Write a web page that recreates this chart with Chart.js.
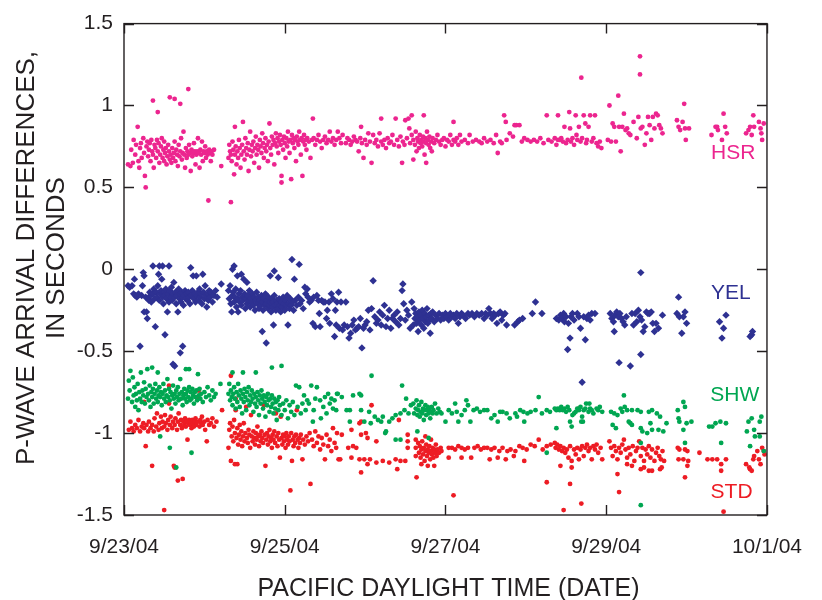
<!DOCTYPE html>
<html>
<head>
<meta charset="utf-8">
<script src="https://cdn.jsdelivr.net/npm/chart.js@4.4.1/dist/chart.umd.min.js"></script>
<style>
  body { margin: 0; background: #fff; }
  canvas { display: block; }
</style>
</head>
<body>
<canvas id="chart" width="822" height="600"></canvas>
<script>
// x = days after 9/23/04 00:00, y = arrival difference in seconds
const xTickDays = [0, 2, 4, 6, 8];
const xTickLabels = ['9/23/04', '9/25/04', '9/27/04', '9/29/04', '10/1/04'];
const yTickValues = [-1.5, -1, -0.5, 0, 0.5, 1, 1.5];
const yTickLabels = ['-1.5', '-1', '-0.5', '0', '0.5', '1', '1.5'];
const seriesNames = ['HSR', 'YEL', 'SHW', 'STD'];
const seriesColors = ['#ec258f', '#2e3192', '#00a651', '#ed1c24'];

const hsrPoints = [
  [0.05,0.64],[0.08,0.63],[0.09,0.73],[0.11,0.65],[0.12,0.79],[0.14,0.70],[0.15,0.76],[0.17,0.87],[0.18,0.66],[0.19,0.62],
  [0.2,0.74],[0.21,0.77],[0.22,0.68],[0.24,0.80],[0.25,0.71],[0.26,0.57],[0.27,0.50],[0.28,0.75],[0.29,0.78],[0.3,0.69],
  [0.31,0.73],[0.32,0.77],[0.33,0.66],[0.34,0.79],[0.35,0.72],[0.36,1.03],[0.36,0.70],[0.37,0.62],[0.38,0.76],[0.39,0.74],
  [0.4,0.68],[0.41,0.79],[0.42,0.96],[0.42,0.72],[0.43,0.77],[0.44,0.65],[0.45,0.70],[0.46,0.75],[0.47,0.80],[0.48,0.68],
  [0.49,0.73],[0.5,0.66],[0.5,0.78],[0.51,0.71],[0.52,0.74],[0.53,0.64],[0.54,0.69],[0.55,0.76],[0.56,0.72],[0.57,1.05],
  [0.57,0.67],[0.58,0.70],[0.59,0.65],[0.6,0.74],[0.61,0.68],[0.62,0.71],[0.63,1.04],[0.63,0.78],[0.64,0.66],[0.65,0.73],
  [0.66,0.70],[0.67,0.63],[0.68,0.76],[0.69,0.69],[0.7,1.01],[0.7,0.72],[0.71,0.80],[0.72,0.67],[0.73,0.71],[0.74,0.84],
  [0.75,0.70],[0.76,0.62],[0.77,0.74],[0.78,0.68],[0.79,0.72],[0.8,1.10],[0.8,0.70],[0.81,0.76],[0.82,0.71],[0.83,0.60],
  [0.84,0.73],[0.85,0.69],[0.86,0.71],[0.87,0.77],[0.88,0.72],[0.89,0.64],[0.9,0.70],[0.91,0.72],[0.92,0.80],[0.93,0.71],
  [0.94,0.62],[0.95,0.73],[0.96,0.70],[0.97,0.78],[0.98,0.66],[0.99,0.72],[1.0,0.71],[1.01,0.75],[1.02,0.68],[1.03,0.72],
  [1.04,0.70],[1.05,0.42],[1.06,0.73],[1.07,0.71],[1.08,0.66],[1.09,0.72],[1.1,0.70],[1.12,0.73],[1.21,0.63],[1.33,0.41],
  [1.3,0.68],[1.31,0.76],[1.32,0.72],[1.33,0.70],[1.34,0.66],[1.35,0.78],[1.36,0.73],[1.37,0.58],[1.38,0.87],[1.38,0.70],
  [1.39,0.75],[1.4,0.64],[1.41,0.72],[1.42,0.68],[1.43,0.79],[1.44,0.74],[1.45,0.62],[1.46,0.70],[1.47,0.76],[1.48,0.90],
  [1.49,0.72],[1.5,0.67],[1.51,0.80],[1.52,0.74],[1.53,0.70],[1.54,0.77],[1.55,0.60],[1.56,0.73],[1.57,0.84],[1.58,0.69],
  [1.59,0.76],[1.6,0.72],[1.61,0.78],[1.62,0.65],[1.63,0.74],[1.64,0.81],[1.65,0.70],[1.66,0.76],[1.67,0.73],[1.68,0.62],
  [1.69,0.79],[1.7,0.75],[1.71,0.71],[1.72,0.83],[1.73,0.77],[1.74,0.68],[1.75,0.74],[1.76,0.80],[1.77,0.72],[1.78,0.76],
  [1.79,0.66],[1.8,0.78],[1.81,0.89],[1.82,0.74],[1.83,0.70],[1.84,0.81],[1.85,0.76],[1.86,0.79],[1.87,0.64],[1.88,0.77],
  [1.89,0.83],[1.9,0.75],[1.91,0.80],[1.92,0.71],[1.93,0.78],[1.94,0.82],[1.95,0.76],[1.96,0.53],[1.96,0.57],[1.97,0.79],
  [1.98,0.73],[1.99,0.81],[2.0,0.77],[2.01,0.68],[2.02,0.80],[2.03,0.75],[2.04,0.84],[2.05,0.78],[2.06,0.71],[2.07,0.79],
  [2.08,0.55],[2.09,0.82],[2.1,0.77],[2.11,0.80],[2.12,0.74],[2.13,0.79],[2.14,0.66],[2.15,0.81],[2.16,0.78],[2.17,0.76],
  [2.18,0.84],[2.19,0.79],[2.2,0.70],[2.21,0.80],[2.22,0.57],[2.23,0.78],[2.24,0.82],[2.25,0.76],[2.26,0.79],[2.27,0.73],
  [2.28,0.80],[2.3,0.78],[2.32,0.68],[2.34,0.79],[2.35,0.92],[2.36,0.80],[2.38,0.76],[2.4,0.79],[2.42,0.82],[2.44,0.78],
  [2.46,0.74],[2.48,0.79],[2.5,0.81],[2.52,0.77],[2.54,0.79],[2.56,0.84],[2.58,0.78],[2.6,0.80],[2.62,0.76],[2.64,0.79],
  [2.66,0.84],[2.68,0.80],[2.7,0.77],[2.72,0.82],[2.76,0.77],[2.78,0.80],[2.8,0.79],[2.82,0.76],[2.84,0.78],[2.86,0.81],
  [2.88,0.79],[2.9,0.78],[2.92,0.72],[2.94,0.80],[2.95,0.87],[2.96,0.77],[2.98,0.68],[3.0,0.79],[3.02,0.76],[3.04,0.83],
  [3.06,0.78],[3.08,0.65],[3.1,0.82],[3.12,0.77],[3.14,0.79],[3.16,0.75],[3.18,0.83],[3.2,0.92],[3.2,0.78],[3.22,0.76],
  [3.24,0.79],[3.26,0.74],[3.28,0.80],[3.3,0.77],[3.32,0.78],[3.34,0.82],[3.36,0.76],[3.38,0.92],[3.4,0.79],[3.42,0.75],
  [3.44,0.81],[3.46,0.65],[3.47,0.78],[3.49,0.76],[3.5,0.91],[3.52,0.80],[3.54,0.92],[3.55,0.86],[3.56,0.77],[3.58,0.94],
  [3.58,0.82],[3.6,0.67],[3.6,0.79],[3.62,0.76],[3.63,0.84],[3.64,0.72],[3.65,0.80],[3.66,0.78],[3.67,0.74],[3.68,0.82],
  [3.69,0.77],[3.7,0.79],[3.71,0.75],[3.72,0.81],[3.73,0.94],[3.73,0.78],[3.74,0.70],[3.75,0.80],[3.76,0.65],[3.76,0.77],
  [3.77,0.84],[3.78,0.79],[3.79,0.76],[3.8,0.81],[3.81,0.74],[3.82,0.78],[3.83,0.72],[3.84,0.80],[3.86,0.77],[3.88,0.79],
  [3.9,0.82],[3.92,0.78],[3.94,0.76],[3.96,0.79],[3.98,0.80],[4.0,0.75],[4.02,0.79],[4.04,0.78],[4.06,0.82],[4.08,0.76],
  [4.1,0.90],[4.1,0.79],[4.12,0.78],[4.14,0.80],[4.16,0.76],[4.18,0.82],[4.2,0.78],[4.24,0.79],[4.28,0.77],[4.3,0.82],
  [4.34,0.78],[4.38,0.79],[4.42,0.78],[4.45,0.77],[4.48,0.80],[4.52,0.78],[4.56,0.79],[4.6,0.77],[4.63,0.82],[4.65,0.71],
  [4.68,0.78],[4.7,0.77],[4.73,0.94],[4.75,0.90],[4.76,0.79],[4.8,0.83],[4.84,0.81],[4.86,0.88],[4.88,0.88],[4.92,0.88],
  [4.95,0.78],[4.98,0.80],[5.02,0.79],[5.06,0.78],[5.1,0.79],[5.14,0.78],[5.18,0.80],[5.22,0.77],[5.26,0.94],[5.28,0.79],
  [5.32,0.78],[5.36,0.80],[5.4,0.94],[5.4,0.79],[5.38,0.76],[5.42,0.79],[5.44,0.80],[5.46,0.78],[5.48,0.87],[5.5,0.77],
  [5.52,0.79],[5.54,0.96],[5.55,0.86],[5.56,0.78],[5.58,0.80],[5.6,0.76],[5.62,0.94],[5.63,0.82],[5.64,0.79],[5.66,0.87],
  [5.68,0.78],[5.69,1.17],[5.7,0.80],[5.72,0.94],[5.74,0.89],[5.75,0.77],[5.76,0.79],[5.78,0.87],[5.8,0.94],[5.82,0.78],
  [5.84,0.80],[5.86,0.94],[5.88,0.77],[5.9,0.75],[5.92,0.78],[5.94,0.74],[6.02,0.79],[6.04,1.00],[6.06,0.78],[6.08,0.89],
  [6.1,0.87],[6.12,0.78],[6.15,1.06],[6.16,0.87],[6.18,0.72],[6.2,0.87],[6.22,0.95],[6.24,0.85],[6.26,0.86],[6.28,0.83],
  [6.3,0.82],[6.34,0.90],[6.38,0.80],[6.4,0.93],[6.42,1.30],[6.42,1.19],[6.43,0.86],[6.45,0.87],[6.48,0.76],[6.5,0.83],
  [6.52,0.93],[6.54,0.88],[6.56,0.79],[6.58,0.93],[6.6,0.86],[6.62,0.95],[6.64,0.94],[6.66,0.88],[6.68,0.86],[6.7,0.83],
  [6.88,0.91],[6.9,0.87],[6.92,0.85],[6.95,0.90],[6.97,1.01],[6.98,0.86],[6.99,0.79],[7.03,0.86],
  [7.31,0.82],[7.36,0.87],[7.38,0.87],[7.39,0.85],[7.44,0.79],[7.46,0.95],[7.48,0.87],[7.5,0.83],
  [7.74,0.83],[7.77,0.85],[7.79,0.87],[7.81,0.82],[7.83,0.94],[7.84,0.87],[7.9,0.90],[7.92,0.86],[7.93,0.83],[7.94,0.79],[7.96,0.89]
];

const yelPoints = [
  [0.05,-0.10],[0.07,-0.11],[0.1,-0.10],[0.12,-0.15],[0.13,-0.06],[0.14,-0.16],[0.16,-0.17],[0.18,-0.15],[0.2,-0.47],[0.22,-0.16],
  [0.23,-0.10],[0.24,-0.02],[0.25,-0.04],[0.25,-0.26],[0.27,-0.17],[0.28,-0.26],[0.29,-0.30],[0.3,-0.18],[0.31,-0.19],[0.32,-0.14],
  [0.33,-0.16],[0.34,-0.20],[0.36,0.02],[0.36,-0.15],[0.37,-0.12],[0.38,-0.18],[0.39,-0.35],[0.4,-0.14],[0.41,-0.17],[0.42,-0.10],
  [0.43,-0.03],[0.44,0.02],[0.44,-0.19],[0.45,-0.15],[0.46,-0.13],[0.47,-0.06],[0.48,0.02],[0.48,-0.17],[0.49,-0.21],[0.5,-0.14],
  [0.51,-0.40],[0.51,-0.16],[0.52,-0.12],[0.53,-0.18],[0.54,-0.26],[0.55,-0.15],[0.56,0.02],[0.56,-0.20],[0.57,-0.13],[0.58,-0.17],
  [0.59,-0.11],[0.6,-0.19],[0.61,-0.58],[0.61,-0.15],[0.62,-0.08],[0.63,-0.59],[0.63,-0.17],[0.64,-0.14],[0.65,-0.21],[0.66,-0.16],
  [0.67,-0.26],[0.68,-0.12],[0.69,-0.18],[0.7,-0.51],[0.7,-0.15],[0.71,-0.20],[0.72,-0.14],[0.73,-0.47],[0.73,-0.17],[0.74,-0.22],
  [0.75,-0.16],[0.76,-0.13],[0.77,-0.18],[0.78,-0.15],[0.79,-0.19],[0.8,-0.14],[0.81,-0.17],[0.82,-0.21],[0.83,0.01],[0.84,-0.16],
  [0.85,-0.13],[0.86,-0.04],[0.87,-0.18],[0.88,-0.15],[0.89,-0.20],[0.9,-0.04],[0.91,-0.16],[0.92,-0.14],[0.93,-0.19],[0.94,-0.12],
  [0.95,-0.17],[0.96,-0.15],[0.97,-0.21],[0.98,-0.03],[0.99,-0.14],[1.0,-0.18],[1.01,-0.10],[1.02,-0.16],[1.03,-0.23],[1.04,-0.15],
  [1.05,-0.19],[1.06,-0.13],[1.07,-0.17],[1.08,-0.14],[1.1,-0.20],[1.12,-0.16],[1.14,-0.13],[1.16,-0.17],[1.21,-0.09],
  [1.3,-0.13],[1.31,-0.18],[1.32,-0.10],[1.33,-0.21],[1.34,-0.26],[1.35,0.00],[1.35,-0.16],[1.36,-0.14],[1.37,0.02],[1.37,-0.20],
  [1.38,-0.17],[1.39,-0.12],[1.4,-0.23],[1.41,-0.04],[1.41,-0.18],[1.42,-0.26],[1.43,-0.15],[1.44,-0.20],[1.45,-0.13],[1.46,-0.03],
  [1.46,-0.22],[1.47,-0.17],[1.48,-0.19],[1.49,-0.06],[1.5,-0.15],[1.51,-0.24],[1.52,-0.18],[1.53,-0.08],[1.53,-0.21],[1.54,-0.16],
  [1.55,-0.19],[1.56,-0.13],[1.57,-0.23],[1.58,-0.18],[1.59,-0.20],[1.6,-0.15],[1.61,-0.22],[1.62,-0.17],[1.63,-0.25],[1.64,-0.19],
  [1.65,-0.14],[1.66,-0.21],[1.67,-0.17],[1.68,-0.24],[1.69,-0.19],[1.7,-0.22],[1.71,-0.16],[1.72,-0.38],[1.72,-0.20],[1.73,-0.25],
  [1.74,-0.18],[1.75,-0.22],[1.76,-0.15],[1.77,-0.45],[1.77,-0.21],[1.78,-0.19],[1.79,-0.24],[1.8,-0.17],[1.81,-0.22],[1.82,-0.04],
  [1.82,-0.20],[1.83,-0.26],[1.84,-0.18],[1.85,-0.23],[1.86,-0.34],[1.86,-0.20],[1.87,-0.01],[1.87,-0.16],[1.88,-0.22],[1.89,-0.25],
  [1.9,-0.19],[1.91,-0.21],[1.92,-0.05],[1.92,-0.24],[1.93,-0.18],[1.94,-0.22],[1.95,-0.26],[1.96,-0.20],[1.97,-0.23],[1.98,-0.17],
  [1.99,-0.21],[2.0,-0.25],[2.01,-0.19],[2.02,-0.22],[2.03,-0.16],[2.04,-0.34],[2.05,-0.21],[2.06,-0.24],[2.07,-0.18],[2.08,-0.22],
  [2.09,0.06],[2.1,-0.20],[2.11,-0.25],[2.12,-0.06],[2.13,-0.19],[2.15,-0.22],[2.17,-0.17],[2.18,0.03],[2.19,-0.21],[2.21,-0.19],
  [2.23,-0.24],[2.25,-0.11],[2.26,-0.15],[2.28,-0.12],[2.29,-0.17],[2.31,-0.20],[2.33,-0.19],[2.35,-0.33],[2.36,-0.17],[2.38,-0.35],
  [2.4,-0.16],[2.42,-0.19],[2.43,-0.27],[2.44,-0.35],[2.46,-0.19],[2.48,-0.20],[2.5,-0.20],[2.52,-0.30],[2.53,-0.25],[2.55,-0.20],
  [2.56,-0.33],[2.58,-0.15],[2.6,-0.18],[2.62,-0.41],[2.63,-0.25],[2.64,-0.34],[2.65,-0.20],[2.67,-0.14],[2.68,-0.36],[2.7,-0.20],
  [2.72,-0.37],[2.74,-0.34],[2.76,-0.20],[2.78,-0.35],[2.8,-0.42],[2.82,-0.39],[2.84,-0.34],[2.86,-0.31],[2.88,-0.37],[2.9,-0.36],
  [2.92,-0.35],[2.94,-0.30],[2.96,-0.48],[2.98,-0.36],[3.0,-0.34],[3.02,-0.32],[3.04,-0.25],[3.06,-0.37],[3.08,-0.24],[3.1,-0.07],
  [3.12,-0.29],[3.14,-0.33],[3.16,-0.31],[3.18,-0.26],[3.2,-0.34],[3.22,-0.28],[3.24,-0.22],[3.26,-0.35],[3.28,-0.30],[3.3,-0.25],
  [3.32,-0.36],[3.34,-0.30],[3.36,-0.28],[3.38,-0.32],[3.4,-0.26],[3.42,-0.34],[3.44,-0.30],[3.46,-0.13],[3.47,-0.09],[3.48,-0.21],
  [3.5,-0.31],[3.52,-0.25],[3.54,-0.28],[3.56,-0.36],[3.58,-0.20],[3.6,-0.34],[3.61,-0.24],[3.62,-0.30],[3.63,-0.27],[3.64,-0.33],
  [3.65,-0.29],[3.66,-0.38],[3.67,-0.26],[3.68,-0.31],[3.69,-0.28],[3.7,-0.34],[3.71,-0.25],[3.72,-0.30],[3.73,-0.36],[3.74,-0.27],
  [3.75,-0.32],[3.76,-0.29],[3.77,-0.24],[3.78,-0.33],[3.79,-0.28],[3.8,-0.31],[3.81,-0.39],[3.82,-0.27],[3.83,-0.30],[3.84,-0.26],
  [3.86,-0.32],[3.88,-0.28],[3.9,-0.30],[3.92,-0.27],[3.94,-0.31],[3.96,-0.28],[3.98,-0.30],[4.0,-0.27],[4.02,-0.29],[4.04,-0.31],
  [4.06,-0.27],[4.08,-0.29],[4.1,-0.28],[4.12,-0.30],[4.14,-0.27],[4.16,-0.33],[4.18,-0.29],[4.2,-0.27],[4.22,-0.28],[4.25,-0.30],
  [4.28,-0.27],[4.3,-0.28],[4.33,-0.27],[4.36,-0.29],[4.39,-0.27],[4.42,-0.28],[4.45,-0.27],[4.48,-0.30],[4.5,-0.27],[4.52,-0.28],
  [4.54,-0.24],[4.56,-0.27],[4.58,-0.30],[4.6,-0.27],[4.62,-0.28],[4.64,-0.33],[4.66,-0.27],[4.68,-0.26],[4.7,-0.31],[4.72,-0.28],
  [4.74,-0.27],[4.76,-0.34],[4.86,-0.34],[4.9,-0.32],[4.92,-0.31],[4.96,-0.30],[5.08,-0.27],[5.12,-0.20],[5.2,-0.27],
  [5.38,-0.30],[5.41,-0.31],[5.43,-0.28],[5.45,-0.30],[5.47,-0.27],[5.48,-0.32],[5.5,-0.29],[5.52,-0.49],[5.53,-0.33],[5.55,-0.42],
  [5.56,-0.29],[5.58,-0.27],[5.6,-0.31],[5.64,-0.27],[5.66,-0.29],[5.68,-0.36],[5.7,-0.69],[5.72,-0.29],[5.74,-0.43],[5.76,-0.30],
  [5.78,-0.28],[5.8,-0.31],[5.82,-0.27],[5.86,-0.27],
  [6.05,-0.27],[6.07,-0.30],[6.09,-0.32],[6.1,-0.38],[6.11,-0.28],[6.13,-0.26],[6.15,-0.29],[6.16,-0.57],[6.17,-0.27],[6.19,-0.30],
  [6.21,-0.32],[6.23,-0.34],[6.25,-0.29],[6.3,-0.59],[6.32,-0.27],[6.34,-0.34],[6.36,-0.27],[6.38,-0.32],[6.4,-0.25],[6.42,-0.29],
  [6.43,-0.02],[6.43,-0.52],[6.44,-0.31],[6.46,-0.38],[6.48,-0.35],[6.5,-0.26],[6.52,-0.27],[6.54,-0.27],[6.56,-0.26],[6.58,-0.33],
  [6.6,-0.38],[6.62,-0.33],[6.65,-0.36],[6.7,-0.28],
  [6.88,-0.27],[6.9,-0.17],[6.91,-0.29],[6.94,-0.39],[6.96,-0.29],[6.98,-0.26],[7.0,-0.33],
  [7.41,-0.32],[7.44,-0.42],[7.46,-0.36],[7.49,-0.28],
  [7.79,-0.41],[7.81,-0.40],[7.82,-0.38]
];

const shwPoints = [
  [0.05,-0.79],[0.06,-0.68],[0.07,-0.74],[0.08,-0.62],[0.1,-0.81],[0.11,-0.66],[0.12,-0.77],[0.13,-0.72],[0.14,-0.84],[0.15,-0.76],
  [0.16,-0.80],[0.17,-0.70],[0.18,-0.86],[0.19,-0.75],[0.2,-0.79],[0.21,-0.63],[0.22,-0.81],[0.23,-0.74],[0.24,-0.77],[0.25,-0.69],
  [0.26,-0.82],[0.27,-0.73],[0.28,-0.78],[0.29,-0.61],[0.3,-0.76],[0.31,-0.80],[0.32,-0.71],[0.33,-0.84],[0.34,-0.75],[0.35,-0.60],
  [0.35,-0.78],[0.36,-0.73],[0.37,-0.82],[0.38,-0.76],[0.39,-0.70],[0.4,-0.79],[0.41,-0.74],[0.42,-0.63],[0.42,-0.81],[0.43,-0.77],
  [0.44,-0.72],[0.45,-1.02],[0.45,-0.78],[0.46,-0.75],[0.47,-0.83],[0.48,-0.76],[0.49,-0.70],[0.5,-0.79],[0.51,-0.74],[0.52,-0.81],
  [0.53,-0.77],[0.54,-0.67],[0.55,-0.78],[0.56,-0.73],[0.57,-1.09],[0.57,-0.80],[0.58,-0.75],[0.59,-0.85],[0.6,-0.77],[0.61,-0.71],
  [0.62,-0.79],[0.63,-0.76],[0.64,-0.82],[0.65,-1.21],[0.65,-0.74],[0.66,-0.78],[0.67,-0.72],[0.68,-0.80],[0.69,-0.76],[0.7,-0.67],
  [0.71,-0.79],[0.72,-0.75],[0.73,-0.83],[0.74,-0.77],[0.75,-0.73],[0.76,-0.79],[0.77,-0.61],[0.77,-0.76],[0.78,-0.81],[0.79,-0.74],
  [0.8,-0.78],[0.81,-0.61],[0.81,-0.72],[0.82,-0.80],[0.83,-0.75],[0.84,-1.12],[0.84,-0.79],[0.85,-0.73],[0.86,-0.77],[0.87,-0.82],
  [0.88,-0.75],[0.89,-0.78],[0.9,-0.74],[0.91,-0.80],[0.92,-0.64],[0.93,-0.77],[0.94,-0.73],[0.95,-0.79],[0.96,-0.76],[0.98,-0.81],
  [1.0,-0.75],[1.02,-0.78],[1.04,-0.72],[1.06,-0.77],[1.08,-0.80],[1.1,-0.74],[1.12,-0.78],[1.14,-0.76],[1.2,-0.70],
  [1.3,-0.76],[1.31,-0.70],[1.32,-0.80],[1.33,-0.74],[1.34,-0.78],[1.35,-0.63],[1.35,-0.83],[1.36,-0.76],[1.37,-0.72],[1.38,-0.79],
  [1.39,-0.85],[1.4,-0.75],[1.41,-0.81],[1.42,-0.70],[1.43,-0.77],[1.44,-0.84],[1.45,-0.74],[1.46,-0.79],[1.47,-0.88],[1.48,-0.63],
  [1.48,-0.76],[1.49,-0.81],[1.5,-0.73],[1.51,-0.78],[1.52,-0.86],[1.53,-0.75],[1.54,-0.80],[1.55,-0.72],[1.56,-0.83],[1.57,-0.77],
  [1.58,-0.81],[1.59,-0.74],[1.6,-0.79],[1.61,-0.87],[1.62,-0.76],[1.63,-0.82],[1.64,-0.63],[1.64,-0.78],[1.65,-0.84],[1.66,-0.75],
  [1.67,-0.80],[1.68,-0.89],[1.69,-0.77],[1.7,-0.82],[1.71,-0.74],[1.72,-0.79],[1.73,-0.85],[1.74,-0.77],[1.75,-0.81],[1.76,-0.90],
  [1.77,-0.78],[1.78,-0.83],[1.79,-0.76],[1.8,-0.80],[1.81,-0.87],[1.82,-0.79],[1.83,-0.84],[1.84,-0.60],[1.84,-0.77],[1.85,-0.82],
  [1.86,-0.88],[1.87,-0.79],[1.88,-0.85],[1.89,-0.81],[1.9,-0.92],[1.91,-0.80],[1.92,-0.86],[1.93,-0.78],[1.94,-0.83],[1.96,-0.59],
  [1.96,-0.89],[1.98,-0.82],[2.0,-0.86],[2.02,-0.80],[2.04,-0.91],[2.06,-0.83],[2.08,-0.87],[2.1,-0.81],[2.12,-0.89],[2.14,-0.71],
  [2.16,-0.84],[2.18,-0.72],[2.2,-0.88],[2.22,-0.82],[2.24,-0.77],[2.26,-0.86],[2.28,-0.80],[2.3,-0.82],[2.33,-0.71],[2.35,-0.93],
  [2.36,-0.86],[2.38,-0.79],[2.4,-0.72],[2.44,-0.80],[2.45,-0.91],[2.48,-0.84],[2.5,-0.78],[2.52,-0.88],[2.54,-0.76],[2.56,-0.82],
  [2.58,-0.79],[2.6,-0.85],[2.62,-0.80],[2.64,-0.86],[2.65,-0.76],[2.66,-0.76],[2.71,-0.78],[2.77,-0.86],[2.81,-0.86],[2.81,-0.93],
  [2.85,-0.77],[2.93,-0.76],[2.95,-0.77],[2.95,-0.86],[2.99,-0.93],[3.05,-0.87],[3.07,-0.94],[3.08,-0.65],[3.12,-0.90],[3.16,-0.92],
  [3.2,-0.93],[3.22,-0.90],[3.25,-1.00],[3.26,-0.99],[3.3,-0.93],[3.34,-0.91],[3.38,-0.89],[3.38,-1.04],[3.44,-0.88],[3.44,-1.04],
  [3.46,-0.71],[3.49,-0.86],[3.51,-0.79],[3.54,-0.88],[3.57,-0.83],[3.6,-0.82],[3.61,-0.88],[3.63,-0.85],[3.64,-0.80],[3.65,-0.99],
  [3.65,-0.89],[3.66,-0.86],[3.67,-0.83],[3.68,-0.90],[3.69,-0.87],[3.7,-0.81],[3.71,-0.88],[3.72,-0.85],[3.73,-0.92],[3.74,-0.86],
  [3.75,-0.83],[3.76,-0.89],[3.77,-0.86],[3.78,-0.84],[3.79,-1.03],[3.79,-0.88],[3.8,-0.85],[3.81,-0.91],[3.82,-0.87],[3.83,-0.84],
  [3.84,-0.88],[3.85,-0.86],[3.87,-0.82],[3.89,-0.88],[3.91,-0.85],[3.93,-0.87],[3.95,-0.88],[4.0,-0.93],[4.04,-0.86],[4.08,-0.88],
  [4.12,-0.82],[4.14,-0.87],[4.16,-0.93],[4.2,-0.89],[4.24,-0.86],[4.26,-0.80],[4.28,-0.83],[4.31,-0.93],[4.35,-0.86],[4.39,-0.85],
  [4.43,-0.87],[4.48,-0.86],[4.52,-0.86],[4.57,-0.91],[4.61,-0.89],[4.65,-0.93],[4.68,-0.87],[4.71,-0.87],[4.76,-0.88],[4.8,-0.91],
  [4.87,-0.88],[4.89,-0.90],[4.93,-0.86],[4.97,-0.87],[4.98,-0.93],[5.02,-0.88],[5.06,-0.87],[5.12,-0.86],[5.16,-0.78],[5.2,-0.88],
  [5.26,-0.86],[5.26,-1.12],[5.3,-0.87],[5.38,-0.86],[5.38,-0.97],
  [5.36,-0.85],[5.4,-0.85],[5.42,-0.86],[5.44,-0.84],[5.46,-0.86],[5.48,-0.85],[5.5,-0.87],[5.52,-0.84],[5.54,-0.86],[5.55,-0.93],
  [5.57,-0.96],[5.58,-0.89],[5.6,-0.88],[5.62,-0.87],[5.64,-0.85],[5.66,-0.86],[5.68,-0.84],[5.69,-0.93],[5.7,-0.90],[5.71,-0.93],
  [5.72,-0.86],[5.74,-0.85],[5.75,-0.82],[5.78,-0.87],[5.79,-0.82],[5.8,-0.85],[5.82,-0.86],[5.84,-0.88],[5.88,-0.85],[5.9,-0.86],
  [5.92,-0.84],[5.95,-0.87],[6.06,-0.87],[6.08,-0.95],[6.1,-0.88],[6.12,-0.97],[6.14,-0.89],[6.18,-0.85],[6.2,-0.87],[6.22,-0.77],
  [6.23,-0.84],[6.26,-0.86],[6.28,-0.93],[6.3,-0.94],[6.32,-0.86],[6.32,-0.95],[6.39,-0.86],[6.43,-0.87],[6.43,-0.97],[6.43,-1.06],
  [6.43,-1.44],[6.45,-0.99],[6.51,-1.00],[6.53,-0.87],[6.55,-0.94],[6.57,-0.86],[6.57,-0.98],[6.63,-0.88],[6.65,-0.98],[6.67,-0.90],
  [6.71,-0.99],[6.75,-0.94],[6.89,-0.86],[6.9,-0.91],[6.91,-0.93],[6.96,-0.81],[6.96,-0.98],[6.98,-0.84],[6.98,-1.06],[7.0,-0.94],
  [7.06,-0.93],[7.28,-0.96],[7.32,-0.96],[7.36,-0.94],[7.42,-0.93],[7.43,-1.06],[7.49,-0.94],[7.75,-0.99],[7.77,-0.93],[7.79,-1.08],
  [7.81,-0.91],[7.84,-0.98],[7.85,-1.02],[7.91,-0.93],[7.91,-1.02],[7.93,-0.90],[7.96,-1.11]
];

const stdPoints = [
  [0.06,-0.98],[0.08,-0.93],[0.1,-0.97],[0.12,-0.99],[0.14,-0.95],[0.16,-0.97],[0.18,-0.92],[0.2,-0.99],[0.22,-0.96],[0.24,-0.94],
  [0.25,-0.97],[0.25,-0.81],[0.27,-1.08],[0.28,-0.95],[0.3,-0.99],[0.31,-0.93],[0.33,-0.97],[0.35,-1.20],[0.35,-0.95],[0.37,-0.99],
  [0.38,-0.91],[0.4,-0.96],[0.41,-0.88],[0.43,-0.98],[0.44,-0.94],[0.46,-0.90],[0.47,-0.97],[0.48,-0.93],[0.5,-1.47],[0.5,-0.96],
  [0.51,-0.89],[0.52,-0.94],[0.54,-0.98],[0.55,-0.92],[0.56,-0.71],[0.56,-0.82],[0.57,-0.95],[0.58,-0.90],[0.6,-0.97],[0.61,-0.93],
  [0.62,-1.20],[0.63,-1.21],[0.63,-0.95],[0.64,-0.91],[0.66,-0.98],[0.67,-1.29],[0.67,-0.93],[0.68,-0.88],[0.7,-0.95],[0.71,-0.92],
  [0.72,-0.97],[0.73,-1.28],[0.74,-0.93],[0.75,-0.95],[0.76,-0.91],[0.77,-0.96],[0.78,-0.93],[0.79,-1.04],[0.8,-0.94],[0.81,-0.92],
  [0.82,-0.95],[0.83,-0.93],[0.84,-0.97],[0.85,-0.92],[0.86,-0.94],[0.87,-0.96],[0.88,-0.93],[0.89,-0.91],[0.9,-0.95],[0.91,-0.78],
  [0.92,-0.93],[0.93,-0.74],[0.94,-0.96],[0.95,-0.92],[0.96,-0.94],[0.97,-0.90],[0.98,-0.95],[1.0,-0.93],[1.01,-0.98],[1.03,-1.05],
  [1.04,-0.92],[1.06,-0.95],[1.08,-0.94],[1.1,-0.91],[1.12,-0.96],[1.15,-0.93],[1.22,-0.86],
  [1.3,-1.09],[1.31,-0.98],[1.32,-0.94],[1.33,-0.65],[1.33,-1.17],[1.34,-1.02],[1.35,-0.96],[1.36,-1.05],[1.37,-0.92],[1.38,-1.19],
  [1.38,-1.00],[1.39,-0.79],[1.39,-0.86],[1.4,-1.03],[1.41,-1.19],[1.41,-0.97],[1.42,-1.07],[1.43,-1.01],[1.44,-0.95],[1.45,-1.04],
  [1.46,-0.99],[1.47,-1.08],[1.48,-1.02],[1.49,-0.94],[1.5,-1.05],[1.51,-1.00],[1.52,-0.84],[1.53,-1.03],[1.54,-1.06],[1.55,-0.98],
  [1.56,-1.01],[1.57,-1.09],[1.58,-0.89],[1.59,-1.02],[1.6,-1.05],[1.61,-0.99],[1.62,-1.03],[1.63,-1.07],[1.64,-1.00],[1.65,-1.04],
  [1.66,-0.96],[1.67,-1.02],[1.68,-1.08],[1.69,-1.01],[1.7,-1.05],[1.71,-0.99],[1.72,-1.03],[1.73,-1.06],[1.74,-0.83],[1.75,-1.01],
  [1.76,-1.20],[1.77,-1.04],[1.78,-1.00],[1.79,-1.07],[1.8,-1.02],[1.81,-0.98],[1.82,-1.05],[1.83,-1.03],[1.84,-1.09],[1.85,-1.01],
  [1.86,-1.04],[1.87,-0.99],[1.88,-1.06],[1.89,-0.88],[1.9,-1.02],[1.91,-1.08],[1.92,-1.00],[1.93,-1.04],[1.94,-1.15],[1.95,-0.90],
  [1.96,-1.03],[1.97,-1.07],[1.98,-1.01],[1.99,-1.05],[2.0,-1.02],[2.01,-1.09],[2.02,-1.00],[2.03,-1.04],[2.04,-1.07],[2.05,-1.02],
  [2.06,-1.05],[2.07,-1.35],[2.08,-1.00],[2.09,-1.17],[2.1,-1.04],[2.11,-1.08],[2.12,-1.02],[2.13,-1.06],[2.14,-1.01],[2.15,-0.86],
  [2.16,-1.04],[2.17,-1.09],[2.18,-1.03],[2.19,-1.06],[2.2,-1.01],[2.22,-1.16],[2.23,-1.04],[2.25,-1.07],[2.27,-1.02],[2.29,-1.05],
  [2.31,-1.00],[2.32,-1.31],[2.34,-1.04],[2.36,-1.08],[2.38,-0.99],[2.4,-1.06],[2.42,-1.02],[2.44,-1.10],[2.46,-1.03],[2.48,-1.07],
  [2.5,-1.16],[2.52,-1.01],[2.54,-1.08],[2.56,-1.04],[2.58,-1.11],[2.6,-0.97],[2.62,-1.06],[2.64,-1.09],[2.67,-1.16],[2.65,-1.00],
  [2.69,-1.16],[2.71,-1.01],[2.79,-1.09],[2.83,-0.98],[2.83,-1.15],[2.85,-1.08],[2.89,-1.09],[2.93,-0.94],[2.93,-1.16],[2.95,-0.93],
  [2.95,-1.01],[2.95,-1.24],[2.99,-1.16],[3.01,-1.00],[3.03,-1.03],[3.03,-1.19],[3.06,-1.16],[3.08,-0.83],[3.14,-1.05],[3.14,-1.18],
  [3.22,-1.17],[3.3,-1.18],[3.38,-1.16],[3.4,-1.22],[3.42,-0.92],[3.44,-1.17],[3.5,-1.17],[3.53,-1.01],[3.53,-1.05],[3.53,-1.09],
  [3.63,-1.04],[3.63,-1.09],[3.63,-1.14],[3.64,-1.27],
  [3.66,-1.06],[3.67,-1.12],[3.68,-1.08],[3.69,-1.15],[3.7,-1.10],[3.7,-1.19],[3.71,-1.05],[3.72,-1.13],[3.73,-1.09],[3.74,-1.17],
  [3.75,-1.11],[3.75,-1.02],[3.76,-1.07],[3.77,-1.14],[3.78,-1.10],[3.78,-1.20],[3.79,-1.12],[3.8,-1.08],[3.81,-1.16],[3.82,-1.11],
  [3.82,-1.04],[3.83,-1.13],[3.84,-1.09],[3.85,-1.15],[3.86,-1.10],[3.86,-1.20],[3.87,-1.12],[3.88,-1.07],[3.89,-1.14],[3.9,-1.10],
  [3.92,-1.12],[3.94,-1.09],[3.95,-1.11],[4.04,-1.09],[4.04,-1.15],[4.08,-1.09],[4.1,-1.38],[4.12,-1.10],[4.16,-1.08],[4.2,-1.09],
  [4.2,-1.15],[4.24,-1.10],[4.28,-1.09],[4.32,-1.15],[4.36,-1.09],[4.4,-1.08],[4.44,-1.10],[4.48,-1.09],[4.52,-1.09],[4.55,-1.16],
  [4.57,-1.10],[4.61,-1.09],[4.65,-1.15],[4.67,-1.11],[4.71,-1.09],[4.75,-1.16],[4.77,-1.11],[4.81,-1.10],[4.85,-1.14],[4.87,-1.11],
  [4.92,-1.08],[4.96,-1.09],[4.98,-1.17],[5.01,-1.10],[5.06,-1.07],[5.11,-1.08],[5.16,-1.04],[5.21,-1.10],[5.26,-1.08],[5.26,-1.30],
  [5.31,-1.07],[5.36,-1.06],[5.37,-1.09],[5.39,-1.07],[5.41,-1.10],[5.43,-1.08],[5.43,-1.20],[5.45,-1.11],[5.47,-1.09],[5.47,-1.47],
  [5.49,-1.12],[5.51,-1.10],[5.53,-1.15],[5.55,-1.08],[5.55,-1.31],[5.57,-1.17],[5.57,-1.21],[5.6,-1.10],[5.62,-1.13],[5.64,-1.09],
  [5.66,-1.16],[5.66,-0.85],[5.68,-1.10],[5.69,-1.43],[5.7,-1.08],[5.72,-1.14],[5.74,-1.09],[5.76,-1.07],[5.78,-1.11],[5.8,-1.09],
  [5.82,-1.16],[5.84,-1.08],[5.86,-1.10],[5.88,-1.07],[5.9,-1.12],[5.93,-1.09],[5.95,-1.16],
  [6.04,-1.05],[6.06,-1.09],[6.08,-1.14],[6.1,-1.08],[6.12,-1.11],[6.14,-1.16],[6.14,-1.25],[6.16,-1.09],[6.16,-1.36],[6.18,-1.12],
  [6.2,-1.07],[6.22,-1.04],[6.24,-1.10],[6.26,-1.15],[6.26,-1.19],[6.28,-1.09],[6.3,-1.13],[6.32,-1.20],[6.33,-1.08],[6.35,-1.17],
  [6.37,-1.11],[6.39,-1.09],[6.41,-1.05],[6.43,-1.14],[6.43,-1.22],[6.45,-1.09],[6.47,-1.17],[6.47,-1.21],[6.49,-1.10],[6.51,-1.13],
  [6.53,-1.08],[6.53,-1.23],[6.55,-1.15],[6.57,-1.10],[6.57,-1.23],[6.6,-1.17],[6.62,-1.12],[6.64,-1.09],[6.66,-1.14],[6.67,-1.22],
  [6.68,-1.16],[6.69,-1.21],[6.7,-1.11],[6.72,-1.17],
  [6.89,-1.09],[6.9,-1.16],[6.91,-1.10],[6.96,-1.16],[6.98,-1.10],[6.98,-1.27],[7.01,-1.11],[7.01,-1.20],[7.02,-1.17],[7.16,-1.12],
  [7.26,-1.16],[7.32,-1.16],[7.38,-1.16],[7.43,-1.19],[7.43,-1.23],[7.46,-1.48],[7.49,-1.16],
  [7.74,-1.19],[7.78,-1.21],[7.79,-1.22],[7.81,-1.23],[7.83,-1.16],[7.84,-1.14],[7.88,-1.11],[7.9,-1.16],[7.92,-1.19],[7.94,-1.09],
  [7.96,-1.11],[7.97,-1.13]
];

// where each station name sits, in data units
const labelAnchors = { HSR: [7.58, 0.71], YEL: [7.55, -0.145], SHW: [7.6, -0.77], STD: [7.56, -1.36] };

const FONT = '"Liberation Sans", Arial, Helvetica, sans-serif';
const INK = '#231f20';

const toXY = pts => pts.map(p => ({ x: p[0], y: p[1] }));

const dataset = (name, pts, color, style, radius) => ({
    label: name,
    data: toXY(pts),
    pointStyle: style,
    pointRadius: radius,
    pointBackgroundColor: color,
    pointBorderWidth: 0,
    showLine: false
});

const framePlugin = {
    id: 'frame',
    afterDraw(chart) {
        const { ctx, chartArea: a, scales: { x, y } } = chart;
        ctx.save();
        ctx.strokeStyle = INK;
        ctx.lineWidth = 1.4;
        ctx.strokeRect(a.left, a.top, a.right - a.left, a.bottom - a.top);

        ctx.beginPath();
        xTickDays.forEach(d => {
            const px = Math.round(x.getPixelForValue(d)) + 0.5;
            ctx.moveTo(px, a.bottom); ctx.lineTo(px, a.bottom - 10);
            ctx.moveTo(px, a.top); ctx.lineTo(px, a.top + 10);
        });
        yTickValues.forEach(v => {
            const py = Math.round(y.getPixelForValue(v)) + 0.5;
            ctx.moveTo(a.left, py); ctx.lineTo(a.left + 10, py);
            ctx.moveTo(a.right, py); ctx.lineTo(a.right - 10, py);
        });
        ctx.stroke();

        // station names
        ctx.font = `21px ${FONT}`;
        ctx.textAlign = 'center';
        ctx.textBaseline = 'middle';
        seriesNames.forEach((name, i) => {
            const [d, v] = labelAnchors[name];
            ctx.fillStyle = seriesColors[i];
            ctx.fillText(name, x.getPixelForValue(d), y.getPixelForValue(v));
        });

        // axis titles
        ctx.fillStyle = INK;
        ctx.font = `25px ${FONT}`;
        ctx.fillText('PACIFIC DAYLIGHT TIME (DATE)', (a.left + a.right) / 2 + 3, 589);
        ctx.font = `26px ${FONT}`;
        ctx.translate(27, 258);
        ctx.rotate(-Math.PI / 2);
        ctx.fillText('P-WAVE ARRIVAL DIFFERENCES,', 0, 0);
        ctx.fillText('IN SECONDS', 0, 30);
        ctx.restore();
    }
};

new Chart(document.getElementById('chart'), {
    type: 'scatter',
    data: {
        datasets: [
            dataset('SHW', shwPoints, seriesColors[2], 'circle', 2.4),
            dataset('STD', stdPoints, seriesColors[3], 'circle', 2.4),
            dataset('YEL', yelPoints, seriesColors[1], 'rectRot', 3.7),
            dataset('HSR', hsrPoints, seriesColors[0], 'circle', 2.4)
        ]
    },
    options: {
        responsive: false,
        animation: false,
        devicePixelRatio: 1,
        layout: { padding: { top: 17, right: 45, left: 0, bottom: 0 } },
        plugins: { legend: { display: false }, tooltip: { enabled: false } },
        scales: {
            x: {
                type: 'linear',
                min: 0,
                max: 8,
                afterBuildTicks: scale => { scale.ticks = xTickDays.map(v => ({ value: v })); },
                afterFit: scale => { scale.height = 85; },
                grid: { display: false, drawTicks: false },
                border: { display: false },
                ticks: {
                    padding: 20,
                    color: INK,
                    font: { family: FONT, size: 21 },
                    maxRotation: 0,
                    callback: v => xTickLabels[xTickDays.indexOf(v)]
                }
            },
            y: {
                min: -1.5,
                max: 1.5,
                afterBuildTicks: scale => { scale.ticks = yTickValues.map(v => ({ value: v })); },
                afterFit: scale => { scale.width = 124; },
                grid: { display: false, drawTicks: false },
                border: { display: false },
                ticks: {
                    padding: 11,
                    color: INK,
                    font: { family: FONT, size: 21 },
                    callback: v => yTickLabels[yTickValues.indexOf(v)]
                }
            }
        }
    },
    plugins: [framePlugin]
});
</script>
</body>
</html>
